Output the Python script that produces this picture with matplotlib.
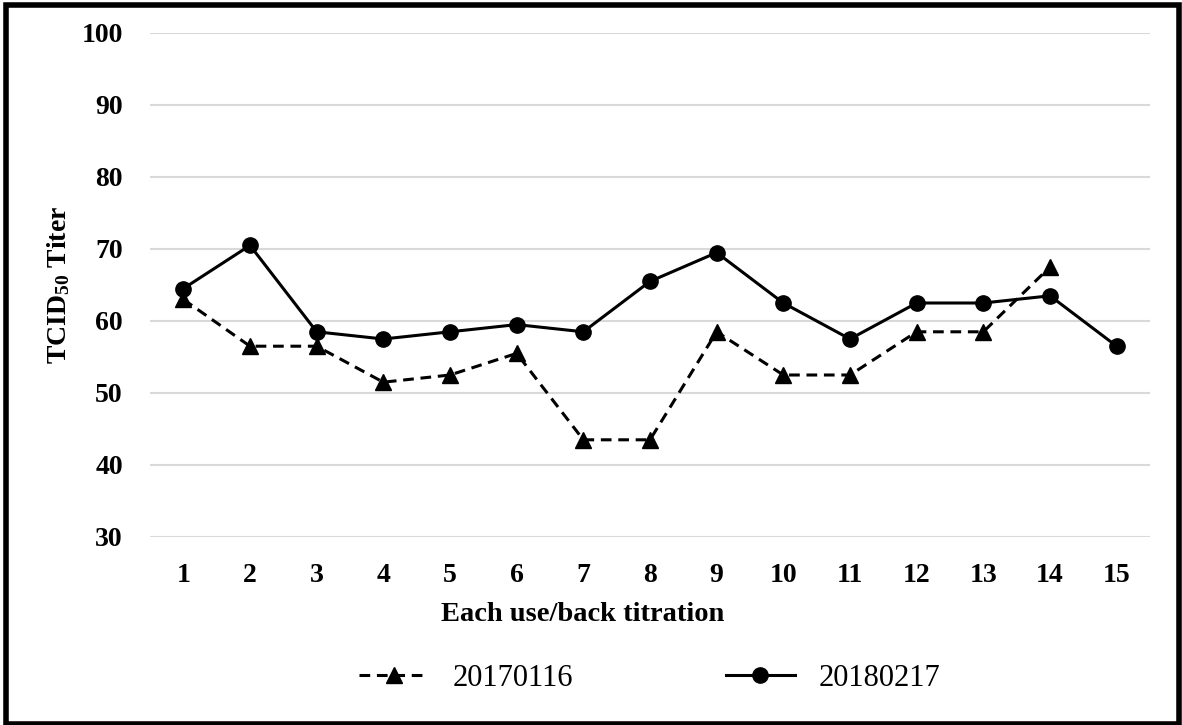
import matplotlib
matplotlib.use('Agg')
import matplotlib.pyplot as plt
from matplotlib.patches import Rectangle

plt.rcParams['font.family'] = 'Liberation Serif'
plt.rcParams['mathtext.fontset'] = 'custom'
plt.rcParams['mathtext.rm'] = 'Liberation Serif:bold'
plt.rcParams['mathtext.it'] = 'Liberation Serif:bold'
plt.rcParams['mathtext.bf'] = 'Liberation Serif:bold'

uses = list(range(1, 16))
x_2017 = list(range(1, 15))
titer_2017 = [63, 56.5, 56.5, 51.5, 52.5, 55.5, 43.5, 43.5, 58.5, 52.5, 52.5, 58.5, 58.5, 67.5]
titer_2018 = [64.5, 70.5, 58.5, 57.5, 58.5, 59.5, 58.5, 65.5, 69.5, 62.5, 57.5, 62.5, 62.5, 63.5, 56.5]
labels = ['20170116', '20180217']

fig = plt.figure(figsize=(11.82, 7.25), dpi=100)
ax = fig.add_axes([150/1182, 1-537/725, 1000/1182, 504/725])

ax.plot(x_2017, titer_2017, color='black', linestyle=(0, (3.5, 2.2)), linewidth=2.2,
        marker='^', markersize=11, label=labels[0])
ax.plot(uses, titer_2018, color='black', linestyle='-', linewidth=2.2,
        marker='o', markersize=11, label=labels[1])

ax.set_xlim(0.5, 15.5)
ax.set_ylim(30, 100)
ax.set_yticks(range(30, 101, 10))
ax.set_xticks(uses)
ax.yaxis.grid(True, color='#d9d9d9', linewidth=1.5)
ax.set_axisbelow(True)
for s in ax.spines.values():
    s.set_visible(False)
ax.tick_params(length=0, labelsize=20)
ax.tick_params(axis='x', pad=18.5)
ax.tick_params(axis='y', pad=19.5)
for t in ax.get_xticklabels() + ax.get_yticklabels():
    t.set_fontweight('bold')

# label sits a bit left of the plot centre in the original
ax.set_xlabel('Each use/back titration', fontsize=20.5, fontweight='bold', labelpad=10, x=0.433)
ax.set_ylabel(r'TCID$_{50}$ Titer', fontsize=20, fontweight='bold', labelpad=7)

fig.legend(loc='center', bbox_to_anchor=(650/1182, 1-678/725), ncol=2, frameon=False,
           fontsize=22, handlelength=2.25, columnspacing=5.0, handletextpad=0.8)

fig.patches.append(Rectangle((6/1182, 1/725), 1173/1182, 1-5.5/725, transform=fig.transFigure,
                             fill=False, edgecolor='black', linewidth=4))

fig.savefig('out.png', dpi=100)
